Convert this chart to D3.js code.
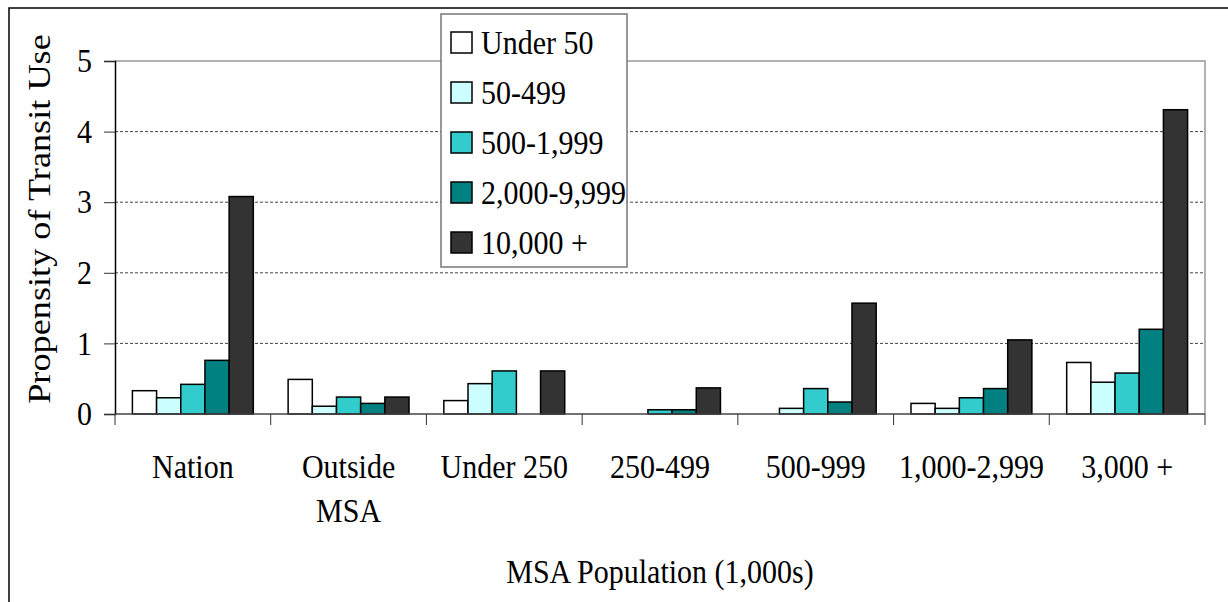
<!DOCTYPE html>
<html>
<head>
<meta charset="utf-8">
<script src="https://cdn.jsdelivr.net/npm/d3@7"></script>
<style>
  html, body { margin: 0; padding: 0; background: #fff; }
  svg { display: block; }
  text { font-family: "Liberation Serif", "Times New Roman", serif; fill: #000; }
</style>
</head>
<body>
<svg id="chart" width="1228" height="602"></svg>
<script>
// ---- data ----
const categories = ["Nation", "Outside MSA", "Under 250", "250-499", "500-999", "1,000-2,999", "3,000 +"];
const categoryLines = [["Nation"], ["Outside", "MSA"], ["Under 250"], ["250-499"], ["500-999"], ["1,000-2,999"], ["3,000 +"]];
const seriesNames = ["Under 50", "50-499", "500-1,999", "2,000-9,999", "10,000 +"];
const under50   = [0.33, 0.49, 0.19, null, null, 0.15, 0.73];
const s50_499   = [0.23, 0.11, 0.43, null, 0.08, 0.08, 0.45];
const s500_1999 = [0.42, 0.24, 0.61, 0.06, 0.36, 0.23, 0.58];
const s2000_9999= [0.76, 0.15, null, 0.06, 0.17, 0.36, 1.20];
const s10000    = [3.08, 0.24, 0.61, 0.37, 1.57, 1.05, 4.31];
const seriesValues = [under50, s50_499, s500_1999, s2000_9999, s10000];
const seriesColors = ["#FFFFFF", "#CCFFFF", "#33CCCC", "#008080", "#333333"];
const yTicks = [0, 1, 2, 3, 4, 5];
const gridTicks = [1, 2, 3, 4];
const yTitle = "Propensity of Transit Use";
const xTitle = "MSA Population (1,000s)";

// ---- layout ----
const svg = d3.select("#chart");
const L = 115, R = 1205, T = 61, B = 414;
const FS = 30, SY = 1.12;

const x0 = d3.scaleBand().domain(categories).range([L, R]).padding(0);
const x1 = d3.scaleBand().domain(seriesNames).range([0, x0.bandwidth()]).paddingInner(0).paddingOuter(0.72);
const y = d3.scaleLinear().domain([0, 5]).range([B, T]);

// outer frame
svg.append("rect").attr("x", 9).attr("y", 8).attr("width", 1300).attr("height", 700)
  .attr("fill", "none").attr("stroke", "#000").attr("stroke-width", 1.5);

// gridlines
svg.append("g").selectAll("line").data(gridTicks).join("line")
  .attr("x1", L).attr("x2", R).attr("y1", d => y(d)).attr("y2", d => y(d))
  .attr("stroke", "#444").attr("stroke-width", 1).attr("stroke-dasharray", "3,2");

// plot area top & right border
svg.append("path").attr("d", `M${L},${y(5)}H${R}V${B}`)
  .attr("fill", "none").attr("stroke", "#999").attr("stroke-width", 1.5);

// bars
const gBars = svg.append("g");
seriesNames.forEach((s, si) => {
  const vals = seriesValues[si];
  gBars.append("g").selectAll("rect")
    .data(categories.map((c, i) => ({c, v: vals[i]})).filter(d => d.v !== null))
    .join("rect")
    .attr("x", d => x0(d.c) + x1(s))
    .attr("width", x1.bandwidth())
    .attr("y", d => y(d.v))
    .attr("height", d => y(0) - y(d.v))
    .attr("fill", seriesColors[si])
    .attr("stroke", "#000").attr("stroke-width", 1.5);
});

// y axis
const yAxis = d3.axisLeft(y).tickValues(yTicks).tickFormat(d3.format("d")).tickSize(11).tickPadding(12);
const gy = svg.append("g").attr("transform", `translate(${L},0)`).call(yAxis);
gy.select(".domain").attr("stroke", "#000").attr("stroke-width", 1.5);
gy.selectAll(".tick line").attr("stroke", "#333").attr("stroke-width", 1);
gy.selectAll(".tick text").attr("font-size", FS).attr("font-family", "Liberation Serif")
  .attr("transform", `scale(1,${SY})`);

// x axis baseline and ticks at band edges
svg.append("line").attr("x1", L).attr("x2", R).attr("y1", B).attr("y2", B)
  .attr("stroke", "#444").attr("stroke-width", 1.5);
const edges = categories.map(c => x0(c)).concat([x0.range()[1]]);
svg.append("g").selectAll("line").data(edges).join("line")
  .attr("x1", d => d).attr("x2", d => d).attr("y1", B).attr("y2", B + 11)
  .attr("stroke", "#333").attr("stroke-width", 1);

// category labels
const gx = svg.append("g");
categories.forEach((c, i) => {
  const cx = x0(c) + x0.bandwidth() / 2;
  categoryLines[i].forEach((line, li) => {
    gx.append("text")
      .attr("transform", `translate(${cx},${478 + li * 44}) scale(1,${SY})`)
      .attr("text-anchor", "middle").attr("font-size", FS).text(line);
  });
});

// axis titles
svg.append("text")
  .attr("transform", `translate(${(L + R) / 2},583) scale(1,${SY})`)
  .attr("text-anchor", "middle").attr("font-size", FS).text(xTitle);
svg.append("text")
  .attr("transform", `translate(50,219) scale(1,1.17) rotate(-90)`)
  .attr("text-anchor", "middle").attr("font-size", 31).text(yTitle);

// legend
const lg = svg.append("g");
lg.append("rect").attr("x", 441).attr("y", 14).attr("width", 186).attr("height", 253)
  .attr("fill", "#fff").attr("stroke", "#777").attr("stroke-width", 1.5);
seriesNames.forEach((s, i) => {
  const yy = 32 + i * 50;
  lg.append("rect").attr("x", 451).attr("y", yy).attr("width", 21).attr("height", 21)
    .attr("fill", seriesColors[i]).attr("stroke", "#000").attr("stroke-width", 1.5);
  lg.append("text")
    .attr("transform", `translate(481,${yy + 22}) scale(1,${SY})`)
    .attr("font-size", FS).text(s);
});
</script>
</body>
</html>
